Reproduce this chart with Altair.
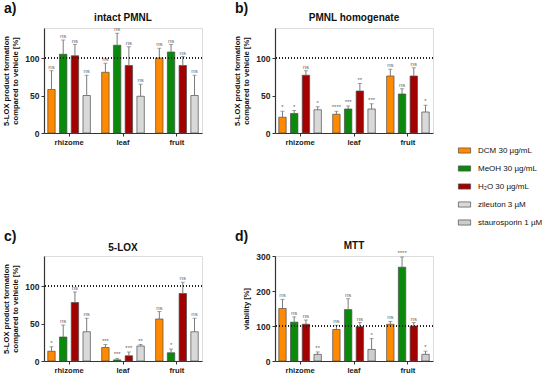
import altair as alt
import pandas as pd

FONT = "Liberation Sans"

groups = ["rhizome", "leaf", "fruit"]
series_all = ["DCM 30 µg/mL", "MeOH 30 µg/mL", "H₂O 30 µg/mL", "zileuton 3 µM", "staurosporin 1 µM"]
colors = ["#ff8a00", "#0a8a0a", "#a30000", "#d9d9d9", "#cdcdcd"]

# Panel a) intact PMNL  (rows: DCM, MeOH, H2O, zileuton; cols: rhizome, leaf, fruit)
a_values = [[58, 81, 100], [105, 117, 108], [103, 90, 90], [50, 49, 50]]
a_errors = [[25, 12, 13], [19, 16, 10], [15, 25, 12], [27, 16, 27]]
a_sig = [["ns", "ns", "ns"], ["ns", "ns", "ns"], ["ns", "ns", "ns"], ["ns", "ns", "ns"]]

# Panel b) PMNL homogenate
b_values = [[21, 25, 76], [26, 32, 52], [77, 56, 76], [31, 32, 28]]
b_errors = [[8, 4, 9], [4, 4, 7], [6, 10, 11], [4, 7, 9]]
b_sig = [["*", "****", "ns"], ["*", "***", "ns"], ["ns", "**", "ns"], ["*", "***", "*"]]

# Panel c) 5-LOX
c_values = [[13, 18, 56], [32, 1.5, 11], [78, 7, 90], [39, 20, 39]]
c_errors = [[6, 4, 10], [16, 2, 5], [14, 5, 15], [18, 2, 18]]
c_sig = [["*", "***", "ns"], ["ns", "***", "*"], ["ns", "***", "ns"], ["ns", "**", "ns"]]

# Panel d) MTT (4th series: staurosporin)
d_values = [[150, 90, 105], [111, 147, 268], [105, 98, 100], [19, 33, 19]]
d_errors = [[26, 12, 8], [15, 31, 29], [12, 12, 10], [7, 31, 9]]
d_sig = [["ns", "ns", "ns"], ["ns", "ns", "****"], ["ns", "ns", "ns"], ["**", "*", "*"]]

lox_title = ["5-LOX product formation", "compared to vehicle [%]"]
mtt_title = "viability [%]"
lox_ticks = [0, 25, 50, 75, 100, 125]


def make_df(values, errors, sigs, series):
    rows = []
    for s_i, s in enumerate(series):
        for g_i, g in enumerate(groups):
            v = values[s_i][g_i]
            e = errors[s_i][g_i]
            rows.append({"group": g, "series": s, "slot": s_i, "value": v,
                         "top": v + e, "sig": sigs[s_i][g_i]})
    return pd.DataFrame(rows)


legend = alt.Legend(title=None, orient="none", legendX=414, legendY=116,
                    symbolType="M-1,-0.42H1V0.42H-1Z", symbolSize=150,
                    symbolStrokeColor="#4d4d4d", symbolStrokeWidth=0.7,
                    symbolOpacity=1, labelFontSize=8, labelFont=FONT,
                    labelColor="#111", rowPadding=7, labelOffset=7)


def panel(df, title, letter, ymax, axis_extra, ytitle, title_offset):
    yaxis = alt.Axis(title=ytitle, labelOverlap=False,
                     labelFontSize=8.5, labelFontWeight="bold", labelFont=FONT,
                     labelColor="#222", tickSize=3, tickColor="#333", tickWidth=1,
                     domainColor="#333", domainWidth=1.2, labelPadding=2,
                     titleFontSize=7.6, titleFontWeight="bold", titleFont=FONT,
                     titleLineHeight=9, titleColor="#111", titlePadding=5, grid=False,
                     **axis_extra)
    yscale = alt.Scale(domain=[0, ymax], nice=False, zero=True)
    base = alt.Chart(df).encode(
        x=alt.X("group:N", sort=groups,
                scale=alt.Scale(paddingInner=0.21, paddingOuter=0.07),
                axis=alt.Axis(title=None, labelAngle=0, labelFontSize=7.6,
                              labelFontWeight="bold", labelFont=FONT, labelColor="#222",
                              tickSize=3, tickColor="#333", domainColor="#333",
                              domainWidth=1.2, labelPadding=2)),
        xOffset=alt.XOffset("slot:O", scale=alt.Scale(paddingInner=0.37, paddingOuter=0)),
    )
    bars = base.mark_bar(stroke="#4d4d4d", strokeWidth=0.7).encode(
        y=alt.Y("value:Q", scale=yscale, axis=yaxis),
        color=alt.Color("series:N", scale=alt.Scale(domain=series_all, range=colors),
                        legend=legend),
    )
    err = base.mark_rule(color="#7a7a7a", strokeWidth=1).encode(
        y=alt.Y("value:Q", scale=yscale, axis=yaxis), y2="top:Q")
    cap = base.mark_tick(color="#7a7a7a", size=4, thickness=1).encode(
        y=alt.Y("top:Q", scale=yscale, axis=yaxis))
    sig = base.mark_text(fontSize=6, color="#666", baseline="bottom", dy=-1, font=FONT).encode(
        y=alt.Y("top:Q", scale=yscale, axis=yaxis), text="sig:N")
    ref = alt.Chart(df).mark_rule(color="#222", strokeDash=[1, 2], strokeWidth=0.9).encode(
        y=alt.datum(100))
    lab = pd.DataFrame({"t": [letter, title]})
    let = alt.Chart(lab).transform_filter(alt.datum.t == letter).mark_text(
        fontSize=14, fontWeight="bold", font=FONT, align="left", baseline="top", color="#111"
    ).encode(x=alt.value(-40), y=alt.value(-26), text="t:N")
    ttl = alt.Chart(lab).transform_filter(alt.datum.t == title).mark_text(
        fontSize=10, fontWeight="bold", font=FONT, align="center", baseline="alphabetic",
        color="#111"
    ).encode(x=alt.value(79), y=alt.value(-title_offset), text="t:N")
    return alt.layer(bars, err, cap, sig, ref, let, ttl).properties(width=158, height=105)


lox_axis = {"values": lox_ticks, "labelExpr": "datum.value % 50 == 0 ? datum.label : ''"}
mtt_axis = {"tickCount": 3}
pa = panel(make_df(a_values, a_errors, a_sig, series_all[:4]), "intact PMNL", "a)",
           140, lox_axis, lox_title, 7)
pb = panel(make_df(b_values, b_errors, b_sig, series_all[:4]), "PMNL homogenate", "b)",
           140, lox_axis, lox_title, 7)
pc = panel(make_df(c_values, c_errors, c_sig, series_all[:4]), "5-LOX", "c)",
           140, lox_axis, lox_title, 5)
pd_ = panel(make_df(d_values, d_errors, d_sig, series_all[:3] + [series_all[4]]), "MTT", "d)",
            300, mtt_axis, mtt_title, 7)

chart = alt.concat(pa, pb, pc, pd_, columns=2, spacing={"row": 123, "column": 73},
                   bounds="flush").resolve_scale(
    y="independent", color="shared"
).resolve_axis(y="independent").properties(
    padding={"left": 2, "top": 1, "right": 0, "bottom": 0}
).configure_view(stroke=None).configure(font=FONT)

chart.save("out.html", embed_options={"renderer": "svg", "actions": False})
